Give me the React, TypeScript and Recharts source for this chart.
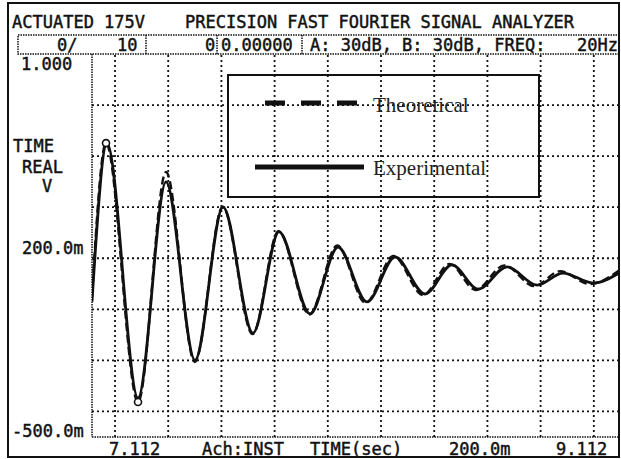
import React from 'react';
import { LineChart, Line, XAxis, YAxis, ReferenceLine, ReferenceDot } from 'recharts';

// Time base (seconds) and amplitude (volts) of the analyzer screen
const timeDomain: [number, number] = [7.2255, 9.2067];
const timeGrid = [7.312, 7.512, 7.712, 7.912, 8.112, 8.312, 8.512, 8.712, 8.912, 9.112];
const voltDomain: [number, number] = [-0.5, 1.0];
const voltGrid = [0.8, 0.6, 0.4, 0.2, 0.0, -0.2, -0.4];

// Measured free-decay response
const expTime = [7.2255, 7.2819, 7.3985, 7.5037, 7.6128, 7.718, 7.8308, 7.9285, 8.0451, 8.1503, 8.2594, 8.3646, 8.4774, 8.579, 8.6767, 8.7857, 8.8985, 8.9962, 9.109, 9.2067];
const expVolt = [0.03, 0.651, -0.347, 0.499, -0.199, 0.40, -0.093, 0.303, -0.018, 0.244, 0.029, 0.205, 0.06, 0.174, 0.079, 0.166, 0.095, 0.142, 0.103, 0.142];

// Model prediction
const theoTime = [7.2255, 7.2782, 7.3985, 7.5037, 7.6118, 7.717, 7.8293, 7.9265, 8.0426, 8.1473, 8.2544, 8.3586, 8.4699, 8.5705, 8.6672, 8.7757, 8.8880, 8.9852, 9.0975, 9.2067];
const theoVolt = [0.05, 0.651, -0.363, 0.538, -0.206, 0.402, -0.097, 0.306, -0.02, 0.25, 0.025, 0.209, 0.056, 0.178, 0.076, 0.172, 0.091, 0.149, 0.099, 0.152];

// Marked extremes of the model curve
const markTime = [7.2782, 7.3985];
const markVolt = [0.651, -0.363];

const expData = expTime.map((t, i) => ({ t, v: expVolt[i] }));
const theoData = theoTime.map((t, i) => ({ t, v: theoVolt[i] }));

const MONO = '"DejaVu Sans Mono", monospace';
const SERIF = '"Liberation Serif", "Times New Roman", serif';
const INK = '#111';

const Mono = ({ x, y, children, anchor }: { x: number; y: number; children: React.ReactNode; anchor?: 'start' | 'end' }) => (
  <text x={x} y={y} fontFamily={MONO} fontSize={17} fill={INK} stroke={INK} strokeWidth={0.45} textAnchor={anchor || 'start'} style={{ whiteSpace: 'pre' }}>
    {children}
  </text>
);

export default function App() {
  return (
    <div style={{ position: 'relative', width: 621, height: 459, background: '#fff' }}>
      <style>{'body{margin:0;background:#fff}'}</style>
      <LineChart width={621} height={459} margin={{ top: 54, left: 92, right: 2, bottom: 22 }}>
        <XAxis type="number" dataKey="t" domain={timeDomain} allowDataOverflow hide />
        <YAxis type="number" domain={voltDomain} allowDataOverflow hide />
        {timeGrid.map((t) => (
          <ReferenceLine key={'x' + t} x={t} stroke={INK} strokeWidth={1.8} strokeDasharray="2 3" />
        ))}
        {voltGrid.map((v) => (
          <ReferenceLine key={'y' + v} y={v} stroke={INK} strokeWidth={1.8} strokeDasharray="2 3" />
        ))}
        <Line data={expData} dataKey="v" type="monotone" stroke={INK} strokeWidth={2.8} dot={false} isAnimationActive={false} />
        <Line data={theoData} dataKey="v" type="monotone" stroke={INK} strokeWidth={2.4} strokeDasharray="8 4" dot={false} isAnimationActive={false} />
        {markTime.map((t, i) => (
          <ReferenceDot key={'m' + i} x={t} y={markVolt[i]} r={3.5} fill="#fff" stroke={INK} strokeWidth={1.6} />
        ))}
      </LineChart>
      <svg width={621} height={459} style={{ position: 'absolute', left: 0, top: 0, pointerEvents: 'none' }}>
        {/* outer frame */}
        <rect x={8} y={3} width={611} height={454} fill="none" stroke={INK} strokeWidth={2} />
        {/* plot border */}
        <line x1={92} y1={54} x2={92} y2={437} stroke={INK} strokeWidth={1.5} strokeDasharray="1.5 1" />
        <line x1={92} y1={437} x2={619} y2={437} stroke={INK} strokeWidth={1.5} strokeDasharray="1.5 1" />
        {/* status row */}
        <rect x={18} y={35} width={601} height={19} fill="none" stroke={INK} strokeWidth={1.5} strokeDasharray="1.5 1" />
        <line x1={146} y1={35} x2={146} y2={54} stroke={INK} strokeWidth={1.5} strokeDasharray="1.5 1" />
        <line x1={217} y1={35} x2={217} y2={54} stroke={INK} strokeWidth={1.5} strokeDasharray="1.5 1" />
        <line x1={302} y1={35} x2={302} y2={54} stroke={INK} strokeWidth={1.5} strokeDasharray="1.5 1" />

        <Mono x={12} y={28}>ACTUATED 175V</Mono>
        <Mono x={185} y={28}>PRECISION FAST FOURIER SIGNAL ANALYZER</Mono>
        <Mono x={57} y={51}>0/</Mono>
        <Mono x={117} y={51}>10</Mono>
        <Mono x={205} y={51}>0</Mono>
        <Mono x={221} y={51}>0.00000</Mono>
        <Mono x={310} y={51}>A: 30dB, B: 30dB, FREQ:</Mono>
        <Mono x={618} y={51} anchor="end">20Hz</Mono>

        <Mono x={21} y={70}>1.000</Mono>
        <Mono x={13} y={152}>TIME</Mono>
        <Mono x={22} y={173}>REAL</Mono>
        <Mono x={42} y={192}>V</Mono>
        <Mono x={22} y={254}>200.0m</Mono>
        <Mono x={12} y={437}>-500.0m</Mono>

        <Mono x={109} y={455}>7.112</Mono>
        <Mono x={202} y={455}>Ach:INST</Mono>
        <Mono x={310} y={455}>TIME(sec)</Mono>
        <Mono x={449} y={455}>200.0m</Mono>
        <Mono x={556} y={455}>9.112</Mono>

        {/* legend */}
        <rect x={228} y={75} width={311} height={122} fill="none" stroke={INK} strokeWidth={2} />
        <line x1={265} y1={103} x2={357} y2={103} stroke={INK} strokeWidth={5} strokeDasharray="20 16" />
        <text x={373} y={112} fontFamily={SERIF} fontSize={21} fill="#222">Theoretical</text>
        <line x1={255} y1={167} x2={364} y2={167} stroke={INK} strokeWidth={5} />
        <text x={373} y={175} fontFamily={SERIF} fontSize={21} fill="#222">Experimental</text>
      </svg>
    </div>
  );
}
